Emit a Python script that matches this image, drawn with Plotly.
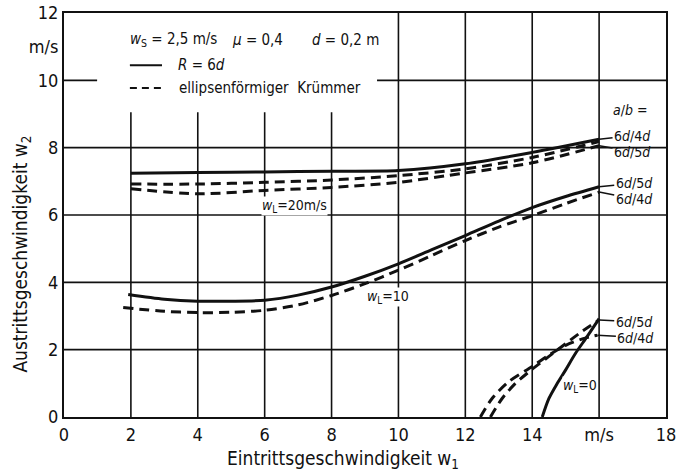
import plotly.graph_objects as go

# ---------------- data ----------------
# w_L = 20 m/s
x20 = [2, 4, 6, 8, 10, 12, 14, 16]
solid20 = [7.24, 7.26, 7.28, 7.30, 7.32, 7.52, 7.86, 8.25]
dash20_4d = [6.92, 6.92, 6.97, 7.04, 7.17, 7.37, 7.71, 8.18]
dash20_5d = [6.78, 6.63, 6.73, 6.82, 6.97, 7.25, 7.55, 8.06]

# w_L = 10 m/s
x10_solid = [1.92, 3, 4, 5, 6, 7, 8, 9, 10, 11, 12, 13, 14, 15, 16]
solid10 = [3.64, 3.50, 3.44, 3.44, 3.47, 3.62, 3.86, 4.18, 4.55, 4.97, 5.39, 5.82, 6.22, 6.55, 6.84]
x10_dash = [1.77, 3, 4, 5, 6, 7, 8, 9, 10, 11, 12, 13, 14, 15, 16]
dash10 = [3.25, 3.14, 3.10, 3.11, 3.17, 3.33, 3.61, 3.96, 4.36, 4.80, 5.24, 5.64, 5.98, 6.34, 6.68]

# w_L = 0
x0_solid = [14.3, 14.5, 14.75, 15.0, 15.3, 15.65, 16.0]
solid0 = [0.0, 0.55, 1.0, 1.4, 1.9, 2.4, 2.92]
x0_5d = [12.75, 13.1, 13.5, 14.0, 14.5, 15.0, 15.5, 16.0]
dash0_5d = [0.0, 0.55, 1.0, 1.42, 1.8, 2.18, 2.55, 2.88]
x0_4d = [12.45, 12.8, 13.3, 14.0, 14.5, 15.0, 15.5, 15.95]
dash0_4d = [0.0, 0.55, 1.05, 1.5, 1.84, 2.13, 2.32, 2.43]

x_ticks = [0, 2, 4, 6, 8, 10, 12, 14, 16, 18]
x_ticktext = ["0", "2", "4", "6", "8", "10", "12", "14", "m/s", "18"]
y_ticks = [0, 2, 4, 6, 8, 10, 11, 12]
y_ticktext = ["0", "2", "4", "6", "8", "10", "m/s", "12"]

FONT = "DejaVu Sans Condensed, Liberation Sans Narrow, Roboto, Arial, sans-serif"
BLACK = "#111111"

fig = go.Figure()

def curve(x, y, dash):
    fig.add_trace(go.Scatter(
        x=x, y=y, mode="lines", showlegend=False, hoverinfo="skip",
        line=dict(color=BLACK, width=3, dash=("10px,6px" if dash else "solid"),
                  shape="spline", smoothing=0.8)))

curve(x20, solid20, False)
curve(x20, dash20_4d, True)
curve(x20, dash20_5d, True)
curve(x10_solid, solid10, False)
curve(x10_dash, dash10, True)
curve(x0_solid, solid0, False)
curve(x0_5d, dash0_5d, True)
curve(x0_4d, dash0_4d, True)

shapes = []
grid = dict(color=BLACK, width=1.6)
# vertical grid lines
for xv in x_ticks[1:-1]:
    top = 9.05 if xv <= 8 else 12
    shapes.append(dict(type="line", xref="x", yref="y", x0=xv, x1=xv, y0=0, y1=top,
                       line=grid, layer="below"))
# horizontal grid lines
for yv in [2, 4, 6, 8]:
    shapes.append(dict(type="line", xref="x", yref="y", x0=0, x1=18, y0=yv, y1=yv,
                       line=grid, layer="below"))
shapes.append(dict(type="line", xref="x", yref="y", x0=0, x1=0.99, y0=10, y1=10, line=grid, layer="below"))
shapes.append(dict(type="line", xref="x", yref="y", x0=9.36, x1=18, y0=10, y1=10, line=grid, layer="below"))

# legend sample lines
shapes.append(dict(type="line", xref="x", yref="y", x0=1.97, x1=2.93, y0=10.45, y1=10.45,
                   line=dict(color=BLACK, width=2)))
shapes.append(dict(type="line", xref="x", yref="y", x0=1.97, x1=2.96, y0=9.77, y1=9.77,
                   line=dict(color=BLACK, width=2, dash="7px,5px")))

annotations = []
def txt(x, y, s, size=15, anchor="left", bg=None):
    d = dict(x=x, y=y, xref="x", yref="y", text=s, showarrow=False, xanchor=anchor,
             yanchor="middle", font=dict(family=FONT, size=size, color=BLACK))
    if bg:
        d.update(bgcolor=bg, borderpad=0)
    annotations.append(d)

txt(1.91, 11.2, "<i>w</i><sub>S</sub> = 2,5 m/s")
txt(4.96, 11.2, "<i>μ</i> = 0,4")
txt(7.36, 11.2, "<i>d</i> = 0,2 m")
txt(3.35, 10.45, "<i>R</i> = 6<i>d</i>")
txt(3.38, 9.77, "ellipsenförmiger  Krümmer")
txt(16.93, 9.12, "<i>a</i>/<i>b</i> =", size=14, anchor="center")

txt(6.9, 6.28, "<i>w</i><sub>L</sub>=20m/s", size=14, anchor="center", bg="white")
txt(9.7, 3.56, "<i>w</i><sub>L</sub>=10", size=14, anchor="center", bg="white")
txt(15.43, 0.92, "<i>w</i><sub>L</sub>=0", size=14, anchor="center", bg="white")

def leader(xe, ye, tx, ty, s):
    annotations.append(dict(x=xe, y=ye, ax=tx, ay=ty, xref="x", yref="y", axref="x", ayref="y",
                            text=s, showarrow=True, arrowhead=0, arrowwidth=1.5,
                            arrowcolor=BLACK, standoff=0, startstandoff=0,
                            font=dict(family=FONT, size=14, color=BLACK)))

leader(x20[-1], solid20[-1], 17.0, 8.36, "6<i>d</i>/4<i>d</i>")
leader(x20[-1], dash20_5d[-1], 17.0, 7.88, "6<i>d</i>/5<i>d</i>")
leader(x10_solid[-1], solid10[-1], 17.05, 6.94, "6<i>d</i>/5<i>d</i>")
leader(x10_dash[-1], dash10[-1], 17.05, 6.48, "6<i>d</i>/4<i>d</i>")
leader(x0_5d[-1], dash0_5d[-1], 17.05, 2.83, "6<i>d</i>/5<i>d</i>")
leader(x0_4d[-1], dash0_4d[-1], 17.1, 2.36, "6<i>d</i>/4<i>d</i>")

# axis titles
annotations.append(dict(x=8.34, y=-0.106, xref="x", yref="paper", text="Eintrittsgeschwindigkeit w<sub>1</sub>",
                        showarrow=False, xanchor="center", yanchor="middle",
                        font=dict(family=FONT, size=19, color=BLACK)))
annotations.append(dict(x=-0.07, y=4.85, xref="paper", yref="y", text="Austrittsgeschwindigkeit w<sub>2</sub>",
                        showarrow=False, xanchor="center", yanchor="middle", textangle=-90,
                        font=dict(family=FONT, size=19, color=BLACK)))

fig.update_layout(
    width=687, height=474,
    margin=dict(l=64, r=21, t=13, b=57, autoexpand=False),
    paper_bgcolor="white", plot_bgcolor="white",
    shapes=shapes, annotations=annotations,
    font=dict(family=FONT, size=18, color=BLACK),
    xaxis=dict(range=[0, 18], tickvals=x_ticks, ticktext=x_ticktext, showgrid=False, zeroline=False,
               showline=True, linecolor=BLACK, linewidth=2, mirror=True, ticks="", ticklen=0,
               automargin=False, ticklabeloverflow="allow",
               tickfont=dict(family=FONT, size=18, color=BLACK), fixedrange=True),
    yaxis=dict(range=[0, 12], tickvals=y_ticks, ticktext=y_ticktext, showgrid=False, zeroline=False,
               showline=True, linecolor=BLACK, linewidth=2, mirror=True, ticks="", ticklen=0,
               automargin=False, ticklabeloverflow="allow",
               tickfont=dict(family=FONT, size=18, color=BLACK), fixedrange=True),
)

# remove the default 8px page margin so the 687x474 figure fills the window exactly
fig.write_html("out.html",
               config={"displayModeBar": False, "staticPlot": True},
               post_script="document.body.style.margin='0';document.body.style.overflow='hidden';")
